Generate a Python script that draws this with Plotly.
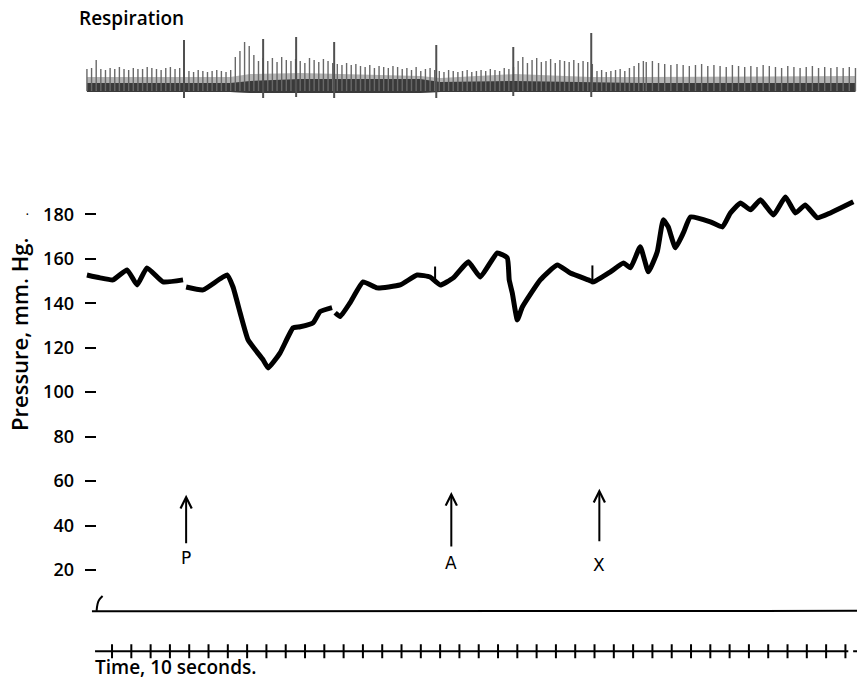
import plotly.graph_objects as go

# ---------------- data (time in seconds, pressure in mm Hg) ----------------
press_t = [-0.30, 0.38, 1.05, 1.78, 2.30, 2.81, 3.64, 4.68, None,
           4.84, 5.72, 6.96, 7.27, 7.64, 8.05, 8.83, 9.09, 9.71, 10.38, 10.75,
           11.42, 11.78, 12.40, None,
           12.56, 12.82, 13.34, 14.01, 14.74, 15.93, 16.81, 17.48, 18.01, 18.68,
           19.46, 20.08, 20.96, 21.48, 21.58, 21.74, 22.00, 22.26, 23.19, 24.07,
           24.74, 25.68, 25.94, 26.82, 27.50, 27.86, 28.37, 28.79, 29.25, 29.56,
           29.82, 30.19, 30.60, 30.97, 32.00, 32.63, 33.04, 33.56, 34.08, 34.60,
           35.27, 35.89, 36.41, 36.92, 37.55, 38.22, 39.41]
press_v = [152.7, 151.4, 150.5, 155.0, 148.2, 155.9, 149.6, 150.5, None,
           147.3, 146.0, 152.7, 147.3, 135.6, 123.5, 114.5, 110.9, 117.7, 128.9, 129.4,
           131.2, 136.2, 138.0, None,
           135.7, 134.0, 140.3, 149.6, 146.9, 148.2, 152.7, 151.8, 148.2, 151.4,
           158.6, 151.8, 162.6, 160.4, 150.5, 144.6, 132.5, 138.3, 150.5, 157.2,
           153.6, 150.5, 149.6, 154.1, 158.1, 155.9, 165.4, 154.1, 163.1, 177.5,
           174.3, 164.9, 171.6, 178.8, 176.6, 174.3, 180.6, 185.1, 182.0, 186.5,
           179.7, 187.8, 180.6, 184.2, 178.4, 180.6, 185.6]

# signal marks on the pressure trace (A and X)
mark_t = [17.74, 25.89]
mark_low = [149.0, 148.5]
mark_high = [156.5, 157.0]

# zero line of the manometer and its little hook
base_t = [-0.04, 39.6]
base_v = [1.4, 1.6]
hook_t = [0.20, 0.25, 0.33, 0.51]
hook_v = [1.6, 4.7, 6.5, 8.3]

pressure_ticks = [20, 40, 60, 80, 100, 120, 140, 160, 180]

# arrows (injections)
arrow_labels = ["P", "A", "X"]
arrow_t = [4.84, 18.58, 26.25]
arrow_tip = [53.8, 55.1, 56.5]
arrow_tail = [31.3, 29.9, 32.2]
label_v = [25.4, 23.2, 22.3]

# respiration (arbitrary units above the trough line)
resp1_start, resp1_end = -0.30, 28.53
resp1_peaks = [22, 23, 31, 22, 21, 23, 22, 24, 22, 21, 23, 22, 22, 24, 23, 22, 21, 23, 24, 22, 23, 22,
               20, 19, 21, 20, 19, 20, 21, 20, 19, 21,
               34, 40, 49, 45, 36, 30, 33,
               30, 33, 29, 34, 31, 30, 32,
               30, 28, 33, 31, 29, 32, 30, 28,
               27, 26, 28, 26, 27,
               25, 24, 26, 23, 25, 24, 23, 25, 24,
               22, 23, 21, 24, 20, 22, 23, 21,
               20, 19, 21, 20, 19, 20, 21, 19, 20, 21, 20, 22, 21, 20, 23, 22, 24,
               30, 34, 28, 31, 33, 29, 30, 32, 28, 31, 30, 29, 31, 28, 30, 29, 27,
               20, 21, 19, 20, 21, 22, 20, 23, 25, 28, 30]
resp2_start, resp2_end = 28.68, 39.52
resp2_peaks = [29, 30, 28, 27, 26, 27, 26, 25, 26, 27, 25, 26, 25, 24, 26, 25, 24, 25,
               24, 26, 25, 24, 23, 25, 24, 23, 24, 25, 23, 24, 23, 24, 23, 24, 23]
resp_spike_t = [4.73, 8.83, 10.54, 12.51, 17.80, 21.79, 25.83]
resp_spike_top = [51, 52, 54, 49, 46, 44, 58]
resp_spike_bottom = [-7, -7, -6, -7, -7, -5, -6]
band_t = [-0.30, 7.12, 8.15, 10.75, 16.97, 18.01, 21.89, 25.78, 28.37, 39.52]
band_top = [8, 8, 10, 12, 12, 9, 10, 9, 8, 8]
band_bottom = [-1, -1, -2, -2, -2, -1, -1, -1, -1, -1]
haze_top = [14, 14, 17, 18, 15, 13, 17, 14, 14, 15]

# time marker (1 s ticks)
time_ticks = list(range(1, 40))
time_line_t = [0.12, 39.15]
time_end_t = [39.40, 39.60]

FONT = "Open Sans"

# ---------------- figure ----------------
fig = go.Figure()

# respiration: haze of dense strokes, then dark trough band
fig.add_trace(go.Scatter(x=band_t + band_t[::-1], y=haze_top + band_bottom[::-1],
                         fill="toself", fillcolor="#b4b4b4", line=dict(width=0),
                         mode="lines", yaxis="y2", hoverinfo="skip"))
fig.add_trace(go.Scatter(x=band_t + band_t[::-1], y=band_top + band_bottom[::-1],
                         fill="toself", fillcolor="#3a3a3a", line=dict(width=0),
                         mode="lines", yaxis="y2", hoverinfo="skip"))


def breath_lines(start, end, peaks):
    n = len(peaks)
    step = (end - start) / (n - 1)
    xs, ys = [], []
    for i, h in enumerate(peaks):
        t = start + i * step
        xs += [t, t, None]
        ys += [0, h, None]
    return xs, ys


for s, e, p in [(resp1_start, resp1_end, resp1_peaks), (resp2_start, resp2_end, resp2_peaks)]:
    bx, by = breath_lines(s, e, p)
    fig.add_trace(go.Scatter(x=bx, y=by, mode="lines", line=dict(color="#686868", width=1.4),
                             yaxis="y2", hoverinfo="skip"))

sx, sy = [], []
for t, top, bot in zip(resp_spike_t, resp_spike_top, resp_spike_bottom):
    sx += [t, t, None]
    sy += [bot, top, None]
fig.add_trace(go.Scatter(x=sx, y=sy, mode="lines", line=dict(color="#505050", width=2),
                         yaxis="y2", hoverinfo="skip"))

# pressure trace
fig.add_trace(go.Scatter(x=press_t, y=press_v, mode="lines",
                         line=dict(color="black", width=5, shape="spline", smoothing=0.4),
                         connectgaps=False, hoverinfo="skip"))
mx, my = [], []
for t, lo, hi in zip(mark_t, mark_low, mark_high):
    mx += [t, t, None]
    my += [lo, hi, None]
fig.add_trace(go.Scatter(x=mx, y=my, mode="lines", line=dict(color="black", width=2), hoverinfo="skip"))

# zero line
fig.add_trace(go.Scatter(x=base_t, y=base_v, mode="lines", line=dict(color="black", width=2), hoverinfo="skip"))
fig.add_trace(go.Scatter(x=hook_t, y=hook_v, mode="lines", line=dict(color="black", width=2, shape="spline"),
                         hoverinfo="skip"))

# time marker
fig.add_trace(go.Scatter(x=time_line_t, y=[0, 0], mode="lines", line=dict(color="black", width=2),
                         yaxis="y3", hoverinfo="skip"))
fig.add_trace(go.Scatter(x=time_end_t, y=[0, 0], mode="lines", line=dict(color="black", width=2),
                         yaxis="y3", hoverinfo="skip"))
fig.add_trace(go.Scatter(x=time_ticks, y=[0] * len(time_ticks), mode="markers",
                         marker=dict(symbol="line-ns", size=10, line=dict(color="black", width=2)),
                         yaxis="y3", hoverinfo="skip"))

# arrows & labels
for lab, t, tip, tail, lv in zip(arrow_labels, arrow_t, arrow_tip, arrow_tail, label_v):
    fig.add_annotation(x=t, y=tip, ax=t, ay=tail, xref="x", yref="y", axref="x", ayref="y",
                       text="", showarrow=True, arrowhead=5, arrowsize=1.1, arrowwidth=2,
                       arrowcolor="black", standoff=0, startstandoff=0)
    fig.add_annotation(x=t, y=lv, xref="x", yref="y", text=lab, showarrow=False,
                       font=dict(family="DejaVu Sans", size=17, color="black"))

# texts
fig.add_annotation(x=(77 - 85) / 772, y=1 - 18 / 682, xref="paper", yref="paper", text="Respiration",
                   showarrow=False, xanchor="left", yanchor="middle",
                   font=dict(family=FONT, size=19, color="black", weight=600))
fig.add_annotation(x=(19 - 85) / 772, y=1 - 335 / 682, xref="paper", yref="paper",
                   text="Pressure, mm. Hg.", textangle=-90, showarrow=False,
                   xanchor="center", yanchor="middle",
                   font=dict(family=FONT, size=22, color="black", weight=600))
fig.add_annotation(x=(93 - 85) / 772, y=1 - 667 / 682, xref="paper", yref="paper",
                   text="Time, 10 seconds.", showarrow=False, xanchor="left", yanchor="middle",
                   font=dict(family=FONT, size=19, color="black", weight=600))
fig.add_annotation(x=(24 - 85) / 772, y=180, xref="paper", yref="y", text="•", showarrow=False,
                   font=dict(family=FONT, size=7, color="black"))

fig.update_layout(
    width=857, height=682,
    margin=dict(l=85, r=0, t=0, b=0, autoexpand=False),
    paper_bgcolor="white", plot_bgcolor="white",
    showlegend=False,
    xaxis=dict(range=[-0.4, 39.6], visible=False, fixedrange=True, automargin=False),
    yaxis=dict(range=[-30.4, 276.4], domain=[0, 1], tickmode="array", tickvals=pressure_ticks,
               ticktext=[str(v) for v in pressure_ticks], ticks="inside", ticklen=11, tickwidth=2,
               tickcolor="black", showgrid=False, zeroline=False, showline=False,
               ticklabelstandoff=10, automargin=False,
               tickfont=dict(family=FONT, size=18, color="black", weight=600)),
    yaxis2=dict(range=[-19, 91], domain=[1 - 110 / 682, 1], visible=False, anchor="x"),
    yaxis3=dict(range=[-1, 1], domain=[0, 0.09], visible=False, anchor="x"),
)

fig.write_html("out.html", config={"displayModeBar": False},
               post_script="document.body.style.margin='0';")
